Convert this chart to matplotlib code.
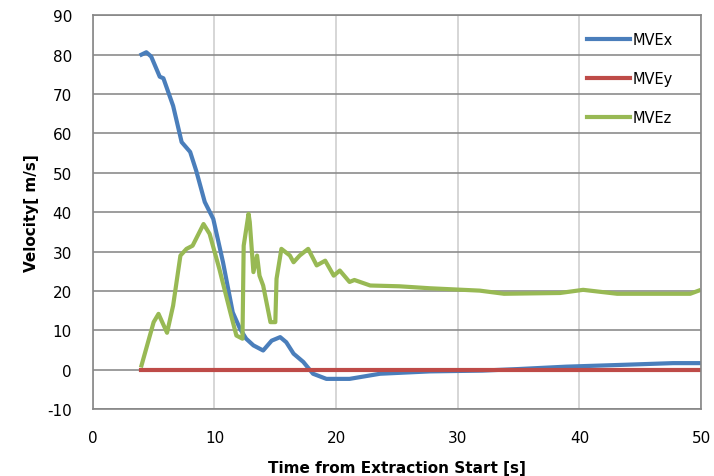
import numpy as np
import matplotlib

matplotlib.use('Agg')
import matplotlib.pyplot as plt

plt.rcParams['font.family'] = ['DejaVu Sans']
plt.rcParams['axes.unicode_minus'] = False

# MVEx (blue)
t_x = [4.0, 4.4, 4.8, 5.5, 5.8, 6.6, 7.3, 8.0, 8.5, 9.2, 9.9, 10.7, 11.5, 12.1, 12.6,
       13.2, 14.0, 14.7, 15.4, 15.9, 16.5, 17.3, 18.1, 19.2, 21.1, 23.6, 27.7, 32.0,
       35.0, 38.9, 43.9, 47.7, 50.0]
v_x = [80.0, 80.6, 79.5, 74.4, 74.0, 67.0, 57.8, 55.3, 50.5, 42.6, 38.3, 27.3, 14.6, 10.4, 7.9,
       6.2, 4.9, 7.4, 8.3, 7.0, 4.1, 2.0, -1.0, -2.3, -2.3, -1.0, -0.4, -0.2,
       0.2, 0.8, 1.3, 1.7, 1.7]

# MVEy (red)
t_y = [4.0, 50.0]
v_y = [0.0, 0.0]

# MVEz (green)
t_z = [4.0, 5.0, 5.4, 6.1, 6.6, 7.2, 7.7, 8.2, 9.1, 9.6, 10.4, 11.3, 11.8, 12.3, 12.4,
       12.8, 12.9, 13.2, 13.5, 13.7, 14.0, 14.6, 15.0, 15.1, 15.5, 16.2, 16.5, 17.0,
       17.7, 18.4, 19.1, 19.8, 20.3, 21.1, 21.5, 22.8, 25.2, 27.7, 31.8, 33.8, 38.4,
       40.3, 43.1, 49.1, 49.8]
v_z = [1.1, 12.1, 14.2, 9.4, 16.3, 29.0, 30.7, 31.5, 37.0, 34.5, 25.6, 14.6, 8.7, 7.9, 31.5,
       39.6, 37.5, 24.8, 29.0, 23.9, 21.4, 12.1, 12.1, 23.1, 30.7, 29.0, 27.3, 29.0,
       30.7, 26.5, 27.7, 23.9, 25.2, 22.3, 22.8, 21.4, 21.2, 20.7, 20.1, 19.3, 19.5,
       20.3, 19.3, 19.3, 20.1]

fig = plt.figure(figsize=(7.14, 4.77), dpi=100)
ax = fig.add_axes([0.130, 0.140, 0.852, 0.826])

ax.plot(t_x, v_x, color='#4A7EBB', lw=3, label='MVEx')
ax.plot(t_y, v_y, color='#BE4B48', lw=3, label='MVEy')
ax.plot(t_z, v_z, color='#98B954', lw=3, label='MVEz')

ax.set_xlim(0, 50)
ax.set_ylim(-10, 90)
ax.set_xticks(np.arange(0, 51, 10))
ax.set_yticks(np.arange(-10, 91, 10))
ax.yaxis.grid(True, color='#8C8C8C', lw=1.2)
ax.xaxis.grid(True, color='#CFCFCF', lw=1.2)
ax.set_axisbelow(True)
for s in ax.spines.values():
    s.set_color('#868686')
    s.set_linewidth(1.2)
ax.tick_params(axis='x', labelsize=11, length=0, pad=15)
ax.tick_params(axis='y', labelsize=11, length=0, pad=15)

ax.set_xlabel('Time from Extraction Start [s]', fontsize=11, fontweight='bold', labelpad=11)
ax.set_ylabel('Velocity[ m/s]', fontsize=11, fontweight='bold', labelpad=6)

ax.legend(loc='upper right', bbox_to_anchor=(0.975, 0.99), frameon=False,
          fontsize=10.5, labelspacing=1.65, handlelength=3.0, handletextpad=0.15)

fig.savefig('out.png', dpi=100)
